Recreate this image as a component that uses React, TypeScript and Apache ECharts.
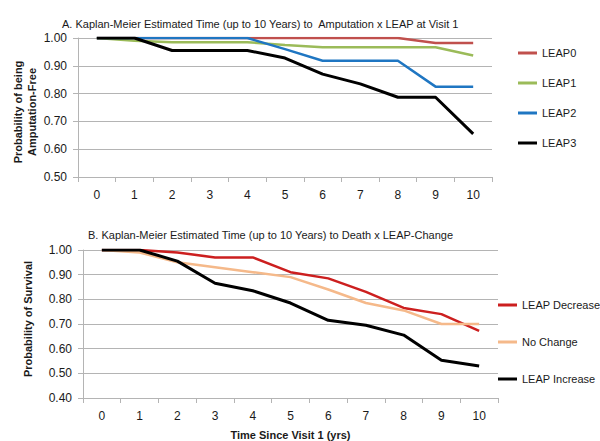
import React, { useEffect, useRef } from "react";
import * as echarts from "echarts";

const years = ["0", "1", "2", "3", "4", "5", "6", "7", "8", "9", "10"];

// Panel A: amputation-free probability by LEAP at visit 1
const leap0 = [1, 1, 1, 1, 1, 1, 1, 1, 1, 0.982, 0.982];
const leap1 = [1, 0.99, 0.985, 0.985, 0.985, 0.975, 0.967, 0.967, 0.967, 0.967, 0.937];
const leap2 = [1, 1, 1, 1, 1, 0.96, 0.918, 0.918, 0.918, 0.825, 0.825];
const leap3 = [1, 1, 0.955, 0.955, 0.955, 0.928, 0.87, 0.835, 0.787, 0.787, 0.655];

// Panel B: survival probability by LEAP change
const leapDecrease = [1, 1, 0.99, 0.97, 0.97, 0.91, 0.885, 0.83, 0.765, 0.74, 0.672];
const noChange = [1, 0.99, 0.95, 0.93, 0.91, 0.89, 0.84, 0.785, 0.755, 0.7, 0.7];
const leapIncrease = [1, 1, 0.955, 0.865, 0.835, 0.785, 0.715, 0.695, 0.655, 0.553, 0.53];

const topNames = ["LEAP0", "LEAP1", "LEAP2", "LEAP3"];
const bottomNames = ["LEAP Decrease", "No Change", "LEAP Increase"];

const FONT = "'Liberation Sans', Arial, Helvetica, sans-serif";
const GRID = "#b4b4b4";
const TEXT = "#1a1a1a";

function App() {
  const ref = useRef<HTMLDivElement>(null);
  useEffect(() => {
    if (!ref.current) return;
    const chart = echarts.init(ref.current, undefined, { renderer: "svg" });
    const xAxisBase = (gridIndex: number) => ({
      type: "category",
      gridIndex,
      data: years,
      boundaryGap: true,
      axisLine: { show: true, lineStyle: { color: GRID } },
      axisTick: { show: true, length: 5, lineStyle: { color: GRID } },
      axisLabel: { fontSize: 12, color: TEXT, fontFamily: FONT, margin: 12 },
      splitLine: { show: false },
    });
    const yAxisBase = (gridIndex: number, min: number) => ({
      type: "value",
      gridIndex,
      min,
      max: 1,
      interval: 0.1,
      axisLine: { show: true, lineStyle: { color: GRID } },
      axisTick: { show: true, length: 5, lineStyle: { color: GRID } },
      axisLabel: {
        fontSize: 12,
        color: TEXT,
        fontFamily: FONT,
        margin: 11,
        formatter: (v: number) => v.toFixed(2),
      },
      splitLine: { show: true, lineStyle: { color: GRID, width: 1 } },
    });
    const line = (
      name: string,
      data: number[],
      color: string,
      width: number,
      idx: number
    ) => ({
      type: "line",
      name,
      data,
      xAxisIndex: idx,
      yAxisIndex: idx,
      showSymbol: false,
      symbol: "none",
      lineStyle: { color, width },
      itemStyle: { color },
    });
    chart.setOption({
      animation: false,
      backgroundColor: "#ffffff",
      textStyle: { fontFamily: FONT },
      title: [
        {
          text: "A. Kaplan-Meier Estimated Time (up to 10 Years) to  Amputation x LEAP at Visit 1",
          left: 57,
          top: 13,
          textStyle: { fontSize: 11, fontWeight: "normal", color: TEXT, fontFamily: FONT },
        },
        {
          text: "B. Kaplan-Meier Estimated Time (up to 10 Years) to Death x LEAP-Change",
          left: 83,
          top: 224,
          textStyle: { fontSize: 11, fontWeight: "normal", color: TEXT, fontFamily: FONT },
        },
      ],
      legend: [
        {
          data: topNames,
          orient: "vertical",
          left: 513,
          top: 41,
          icon: "rect",
          itemWidth: 19,
          itemHeight: 3,
          itemGap: 16,
          textStyle: { fontSize: 11, color: TEXT, fontFamily: FONT, lineHeight: 14 },
        },
        {
          data: bottomNames,
          orient: "vertical",
          left: 493,
          top: 293,
          icon: "rect",
          itemWidth: 19,
          itemHeight: 3,
          itemGap: 23,
          textStyle: { fontSize: 11, color: TEXT, fontFamily: FONT, lineHeight: 14 },
        },
      ],
      grid: [
        { left: 78, right: 108, top: 38, height: 139 },
        { left: 83, right: 102, top: 250, height: 149 },
      ],
      xAxis: [
        xAxisBase(0),
        {
          ...xAxisBase(1),
          name: "Time Since Visit 1 (yrs)",
          nameLocation: "middle",
          nameGap: 31,
          nameTextStyle: { fontSize: 11, fontWeight: "bold", color: TEXT, fontFamily: FONT },
        },
      ],
      yAxis: [yAxisBase(0, 0.5), yAxisBase(1, 0.4)],
      graphic: [
        {
          type: "text",
          x: 25,
          y: 112,
          rotation: Math.PI / 2,
          style: {
            text: "Probability of being\nAmputation-Free",
            align: "center",
            verticalAlign: "middle",
            fontSize: 11,
            fontWeight: "bold",
            lineHeight: 14,
            fill: TEXT,
            fontFamily: FONT,
          },
        },
        {
          type: "text",
          x: 28,
          y: 319,
          rotation: Math.PI / 2,
          style: {
            text: "Probability of Survival",
            align: "center",
            verticalAlign: "middle",
            fontSize: 11,
            fontWeight: "bold",
            fill: TEXT,
            fontFamily: FONT,
          },
        },
      ],
      series: [
        line("LEAP0", leap0, "#c0504d", 2.5, 0),
        line("LEAP1", leap1, "#9bbb59", 2.5, 0),
        line("LEAP2", leap2, "#1f76c2", 2.5, 0),
        line("LEAP3", leap3, "#000000", 3, 0),
        line("LEAP Decrease", leapDecrease, "#cc1f1f", 2.5, 1),
        line("No Change", noChange, "#f5b98a", 2.5, 1),
        line("LEAP Increase", leapIncrease, "#000000", 3, 1),
      ],
    });
    return () => chart.dispose();
  }, []);
  return (
    <div
      ref={ref}
      style={{ position: "fixed", left: 0, top: 0, width: 600, height: 441 }}
    />
  );
}

export default App;
